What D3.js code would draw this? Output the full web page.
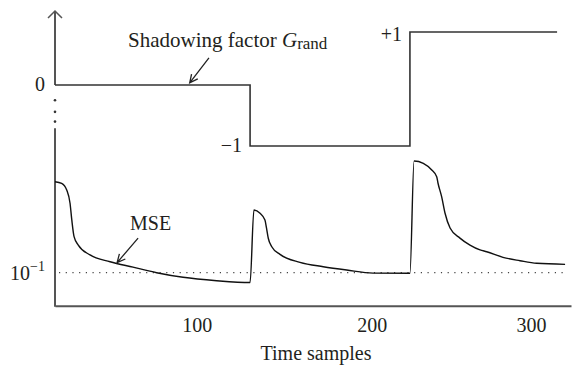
<!DOCTYPE html>
<html>
<head>
<meta charset="utf-8">
<script src="https://cdn.jsdelivr.net/npm/d3@7"></script>
<style>
  body { margin: 0; background: #fff; }
  text { font-family: "Liberation Serif", "Times New Roman", serif; fill: #231f20; }
</style>
</head>
<body>
<svg id="chart" width="572" height="368"></svg>
<script>
// shadowing factor G_rand: sample where each level begins, and its level
var stepSamples = [19, 130.5, 224, 316.3];
var stepLevels = [0, -1, 1, 1];
var levelTicks = [0, -1, 1];
var levelLabels = ["0", "\u22121", "+1"];

// MSE (log scale)
var mseSamples = [19, 22.8, 25.7, 27.6, 28.6, 29.9, 32.3, 39, 50.5, 63.6, 77.1, 92.2, 111.4, 130.5,
  132.7, 136.2, 139, 139.9, 140.9, 142.9, 147.6, 159, 172.3, 185.7, 200.8, 224,
  226.6, 232.4, 237.7, 240.8, 241.6, 243.9, 246, 249.2, 255.4, 261.7, 268, 272.2, 282.4, 293.1, 303.6, 321.3];
var mseValues = [1.0, 0.96, 0.81, 0.58, 0.38, 0.249, 0.201, 0.157, 0.132, 0.115, 0.100, 0.089, 0.0817, 0.078,
  0.489, 0.45, 0.379, 0.308, 0.239, 0.193, 0.159, 0.130, 0.1164, 0.107, 0.099, 0.0985,
  1.689, 1.59, 1.345, 1.135, 0.968, 0.684, 0.453, 0.31, 0.24, 0.201, 0.178, 0.17, 0.1476, 0.1355, 0.1268, 0.1236];

var xTicks = [100, 200, 300];
var mseRef = 0.1;

var svg = d3.select("#chart");

// the figure's sample axis is not evenly spaced, so a piecewise scale
var x = d3.scaleLinear()
  .domain([19, 100, 200, 300, 325])
  .range([55, 196.7, 371.7, 531, 571]);

var g = d3.scaleLinear()
  .domain([-1, 0, 1])
  .range([146, 85, 32]);

var y = d3.scaleLog()
  .domain([0.1, 1])
  .range([272.7, 181.7]);

var axisY = 305.7;
var ink = "#231f20";

// x axis
var xAxis = svg.append("g")
  .attr("transform", "translate(0," + axisY + ")")
  .call(d3.axisBottom(x).tickValues(xTicks).tickSize(0).tickPadding(12).tickSizeOuter(0));
xAxis.select(".domain").attr("stroke", "#555").attr("stroke-width", 2);
xAxis.selectAll("text")
  .attr("font-family", "Liberation Serif, serif")
  .attr("font-size", 20)
  .attr("fill", ink);

svg.append("text")
  .attr("x", 316)
  .attr("y", 360)
  .attr("text-anchor", "middle")
  .attr("font-size", 20)
  .text("Time samples");

// y axis with a break between the two panels
var x0 = x(19);
svg.append("line")
  .attr("x1", x0).attr("x2", x0)
  .attr("y1", 11).attr("y2", g(0))
  .attr("stroke", "#555").attr("stroke-width", 2);
svg.append("line")
  .attr("x1", x0).attr("x2", x0)
  .attr("y1", g(-0.71)).attr("y2", axisY + 1)
  .attr("stroke", "#555").attr("stroke-width", 2);
svg.append("path")
  .attr("d", "M" + (x0 - 7) + ",18L" + x0 + ",11L" + (x0 + 7) + ",18")
  .attr("fill", "none").attr("stroke", "#555").attr("stroke-width", 1.5);

var breakDots = [-0.25, -0.44, -0.6];
svg.selectAll(".bdot")
  .data(breakDots)
  .enter()
  .append("circle")
    .attr("class", "bdot")
    .attr("cx", x0)
    .attr("cy", function(d) { return g(d); })
    .attr("r", 1.3)
    .attr("fill", "#333");

// shadowing factor step
var stepLine = d3.line()
  .x(function(d, i) { return x(stepSamples[i]); })
  .y(function(d) { return g(d); })
  .curve(d3.curveStepAfter);
svg.append("path")
  .attr("d", stepLine(stepLevels))
  .attr("fill", "none")
  .attr("stroke", "#333")
  .attr("stroke-width", 1.6);

svg.selectAll(".lvl")
  .data(levelTicks)
  .enter()
  .append("text")
    .attr("class", "lvl")
    .attr("x", function(d, i) { return i == 0 ? 45 : x(stepSamples[i]) - 8; })
    .attr("y", function(d) { return g(d) + (d == 1 ? 9 : 6); })
    .attr("text-anchor", "end")
    .attr("font-size", 20)
    .text(function(d, i) { return levelLabels[i]; });

// reference level 10^-1
svg.append("line")
  .attr("x1", x0 + 4).attr("x2", x(mseSamples[mseSamples.length - 1]))
  .attr("y1", y(mseRef)).attr("y2", y(mseRef))
  .attr("stroke", "#444")
  .attr("stroke-width", 1.2)
  .attr("stroke-dasharray", "1.2,5.5");

var ref = svg.append("text")
  .attr("x", 10)
  .attr("y", y(mseRef) + 7)
  .attr("font-size", 20);
ref.append("tspan").text("10");
ref.append("tspan").attr("dy", -9).attr("font-size", 14).text("\u22121");

// MSE curve
var mseLine = d3.line()
  .x(function(d, i) { return x(mseSamples[i]); })
  .y(function(d) { return y(d); })
  .curve(d3.curveMonotoneX);
svg.append("path")
  .attr("d", mseLine(mseValues))
  .attr("fill", "none")
  .attr("stroke", "#111")
  .attr("stroke-width", 1.4);

// annotations
function arrow(p0, p1) {
  var a = Math.atan2(p1[1] - p0[1], p1[0] - p0[0]);
  var L = 9, w = 0.45;
  var l1 = [p1[0] - L * Math.cos(a - w), p1[1] - L * Math.sin(a - w)];
  var l2 = [p1[0] - L * Math.cos(a + w), p1[1] - L * Math.sin(a + w)];
  svg.append("path")
    .attr("d", "M" + p0 + "L" + p1 + "M" + l1 + "L" + p1 + "L" + l2)
    .attr("fill", "none")
    .attr("stroke", "#222")
    .attr("stroke-width", 1.3);
}
arrow([x(107), g(0.51)], [x(96), g(0.04)]);
arrow([x(66.5), y(0.24)], [x(54.5), y(0.129)]);

var st = svg.append("text")
  .attr("x", 128)
  .attr("y", 46.5)
  .attr("font-size", 21);
st.append("tspan").text("Shadowing factor ");
st.append("tspan").attr("font-style", "italic").text("G");
st.append("tspan").attr("font-size", 17).attr("dy", 2.5).text("rand");

svg.append("text")
  .attr("x", 130)
  .attr("y", 230)
  .attr("font-size", 20)
  .text("MSE");
</script>
</body>
</html>
